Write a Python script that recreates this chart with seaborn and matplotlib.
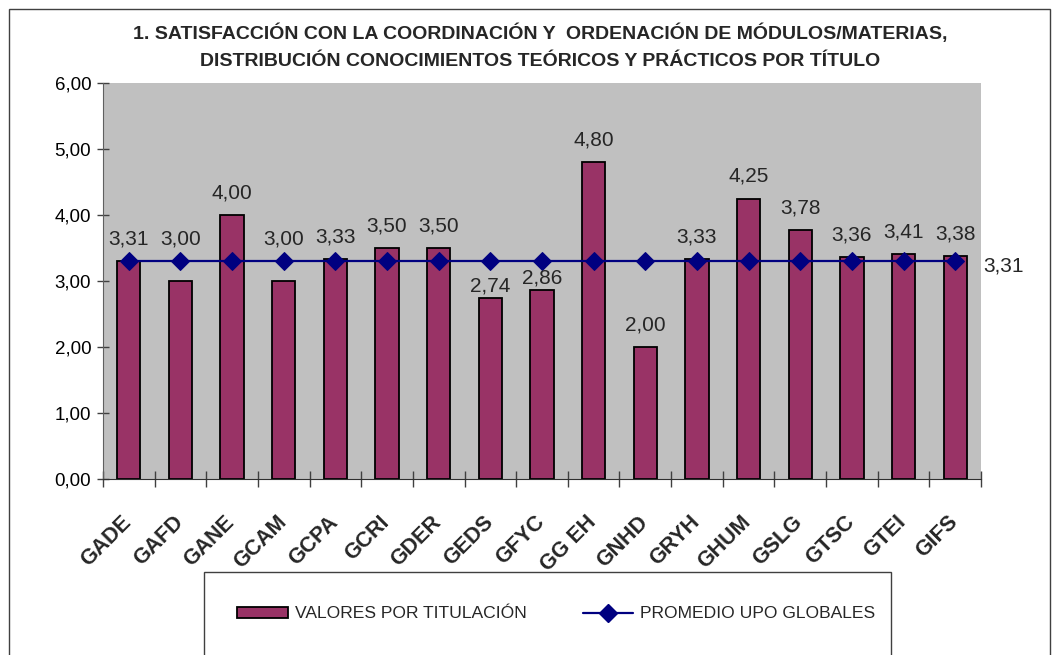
import numpy as np
import matplotlib
matplotlib.use("Agg")
import matplotlib.pyplot as plt
import matplotlib.transforms as mtransforms
import seaborn as sns
from matplotlib.patches import Patch, Rectangle
from matplotlib.lines import Line2D
from matplotlib.ticker import FixedLocator, FuncFormatter

titulos = ["GADE", "GAFD", "GANE", "GCAM", "GCPA", "GCRI", "GDER", "GEDS",
           "GFYC", "GG EH", "GNHD", "GRYH", "GHUM", "GSLG", "GTSC", "GTEI", "GIFS"]
valores = [3.31, 3.00, 4.00, 3.00, 3.33, 3.50, 3.50, 2.74,
           2.86, 4.80, 2.00, 3.33, 4.25, 3.78, 3.36, 3.41, 3.38]
promedio = [3.31] * 17

titulo = ("1. SATISFACCIÓN CON LA COORDINACIÓN Y  ORDENACIÓN DE MÓDULOS/MATERIAS,\n"
          "DISTRIBUCIÓN CONOCIMIENTOS TEÓRICOS Y PRÁCTICOS POR TÍTULO")
serie_barras = "VALORES POR TITULACIÓN"
serie_linea = "PROMEDIO UPO GLOBALES"

BAR = "#993366"
LINE = "#000080"

sns.set_style("white")
plt.rcParams["font.family"] = ["Liberation Sans", "DejaVu Sans"]


def coma(v):
    return f"{v:.2f}".replace(".", ",")


fig = plt.figure(figsize=(10.58, 6.55), dpi=100)
ax = fig.add_axes([103 / 1058, 1 - 479 / 655, (981 - 103) / 1058, (479 - 83) / 655])
ax.set_facecolor("#C0C0C0")

pos = np.arange(len(titulos))
sns.barplot(x=titulos, y=valores, color=BAR, edgecolor="black", linewidth=1.3,
            width=0.45, saturation=1, ax=ax)
sns.lineplot(x=pos, y=promedio, color=LINE, marker="D", markersize=9,
             markeredgecolor=LINE, linewidth=1.6, ax=ax)

ax.set_ylim(0, 6)
ax.set_xlim(-0.5, len(titulos) - 0.5)
ax.set_yticks(np.arange(0, 7, 1))
ax.yaxis.set_major_formatter(FuncFormatter(lambda v, p: coma(v)))
ax.tick_params(axis="y", direction="inout", length=9, width=1, color="#404040",
               labelsize=13.5, pad=4, left=True, labelcolor="black")

ax.set_xticks(pos)
ax.set_xticklabels(titulos, rotation=45, ha="right", va="top",
                   rotation_mode="anchor", fontsize=15.5, fontweight="bold")
ax.tick_params(axis="x", length=0, pad=25)
desplaza = mtransforms.ScaledTranslation(-8 / 100, 2 / 100, fig.dpi_scale_trans)
for lab in ax.get_xticklabels():
    lab.set_transform(lab.get_transform() + desplaza)
ax.xaxis.set_minor_locator(FixedLocator(np.arange(-0.5, len(titulos), 1)))
ax.tick_params(axis="x", which="minor", direction="inout", length=11.5,
               width=1, color="#404040", bottom=True)
ax.set_xlabel("")
ax.set_ylabel("")

for s in ["top", "right"]:
    ax.spines[s].set_visible(False)
ax.spines["left"].set_color("#606060")
ax.spines["bottom"].set_color("#303030")

# etiquetas de datos: justo bajo el promedio suben sobre la linea,
# algo mas abajo quedan pegadas a la barra
for i, v in enumerate(valores):
    y, off = v, 9
    if v < promedio[i]:
        if promedio[i] - v < 0.35:
            y = promedio[i]
        elif promedio[i] - v < 0.7:
            off = 2
    ax.annotate(coma(v), (i, y), xytext=(0, off), textcoords="offset points",
                ha="center", va="bottom", fontsize=15)
ax.annotate(coma(promedio[-1]), (len(titulos) - 1, promedio[-1]),
            xytext=(20, -4), textcoords="offset points", ha="left",
            va="center", fontsize=15, annotation_clip=False)

fig.suptitle(titulo, x=540 / 1058, y=1 - 23 / 655, fontsize=14,
             fontweight="bold", linespacing=1.8, va="top")

# marcos
fig.patches.append(Rectangle((9 / 1058, -0.1), (1050 - 9) / 1058, 1.1 - 9 / 655,
                             transform=fig.transFigure, fill=False,
                             edgecolor="#404040", linewidth=1))
fig.patches.append(Rectangle((204 / 1058, -0.1), (891 - 204) / 1058,
                             0.1 + 1 - 572 / 655, transform=fig.transFigure,
                             fill=False, edgecolor="#404040", linewidth=1))

handles = [Patch(facecolor=BAR, edgecolor="black", linewidth=1.3),
           Line2D([], [], color=LINE, marker="D", markersize=9, linewidth=1.6)]
fig.legend(handles, [serie_barras, serie_linea], loc="center left",
           bbox_to_anchor=(237 / 1058, 1 - 614 / 655), ncol=2, frameon=False,
           prop={"size": 12.6}, handlelength=2.9,
           handleheight=0.6, handletextpad=0.4, columnspacing=3.2,
           borderaxespad=0, borderpad=0)

fig.savefig("out.png", dpi=100)
